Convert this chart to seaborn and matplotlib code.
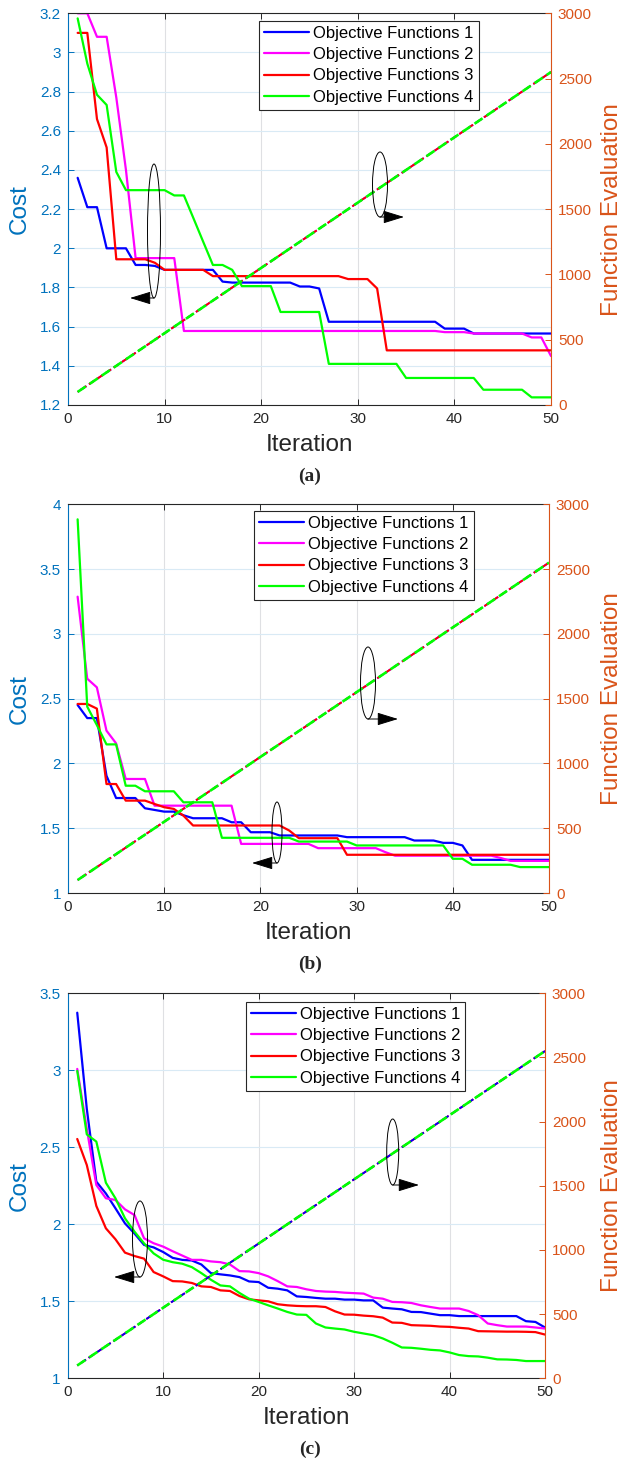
import matplotlib
matplotlib.use("Agg")
import matplotlib.pyplot as plt
import seaborn as sns
from matplotlib.patches import Ellipse, FancyArrowPatch
from matplotlib.ticker import FuncFormatter, MultipleLocator

# ---------------------------------------------------------------- data
iterations = list(range(1, 51))

# cumulative function evaluations (population 50, plus initial population)
function_evals = [100, 150, 200, 250, 300, 350, 400, 450, 500, 550,
                  600, 650, 700, 750, 800, 850, 900, 950, 1000, 1050,
                  1100, 1150, 1200, 1250, 1300, 1350, 1400, 1450, 1500, 1550,
                  1600, 1650, 1700, 1750, 1800, 1850, 1900, 1950, 2000, 2050,
                  2100, 2150, 2200, 2250, 2300, 2350, 2400, 2450, 2500, 2550]

series_labels = ["Objective Functions 1", "Objective Functions 2",
                 "Objective Functions 3", "Objective Functions 4"]
series_colors = ["#0000FF", "#FF00FF", "#FF0000", "#00FF00"]

# (a)
cost_a_f1 = [2.36, 2.21, 2.21, 2.00, 2.00, 2.00, 1.915, 1.915, 1.91, 1.89,
             1.89, 1.89, 1.89, 1.89, 1.89, 1.83, 1.825, 1.825, 1.825, 1.825,
             1.825, 1.825, 1.825, 1.805, 1.805, 1.795, 1.625, 1.625, 1.625, 1.625,
             1.625, 1.625, 1.625, 1.625, 1.625, 1.625, 1.625, 1.625, 1.59, 1.59,
             1.59, 1.565, 1.565, 1.565, 1.565, 1.565, 1.565, 1.565, 1.565, 1.565]
cost_a_f2 = [3.20, 3.20, 3.08, 3.08, 2.77, 2.40, 1.95, 1.95, 1.95, 1.95,
             1.95, 1.578, 1.578, 1.578, 1.578, 1.578, 1.578, 1.578, 1.578, 1.578,
             1.578, 1.578, 1.578, 1.578, 1.578, 1.578, 1.578, 1.578, 1.578, 1.578,
             1.578, 1.578, 1.578, 1.578, 1.578, 1.578, 1.578, 1.578, 1.572, 1.572,
             1.572, 1.565, 1.565, 1.565, 1.565, 1.565, 1.565, 1.545, 1.545, 1.45]
cost_a_f3 = [3.10, 3.10, 2.66, 2.515, 1.944, 1.944, 1.944, 1.944, 1.926, 1.89,
             1.89, 1.89, 1.89, 1.89, 1.858, 1.858, 1.858, 1.858, 1.858, 1.858,
             1.858, 1.858, 1.858, 1.858, 1.858, 1.858, 1.858, 1.858, 1.843, 1.843,
             1.843, 1.795, 1.479, 1.479, 1.479, 1.479, 1.479, 1.479, 1.479, 1.479,
             1.479, 1.479, 1.479, 1.479, 1.479, 1.479, 1.479, 1.479, 1.479, 1.479]
cost_a_f4 = [3.174, 2.943, 2.784, 2.732, 2.39, 2.297, 2.297, 2.297, 2.297, 2.297,
             2.27, 2.27, 2.152, 2.033, 1.915, 1.915, 1.89, 1.807, 1.807, 1.807,
             1.807, 1.675, 1.675, 1.675, 1.675, 1.675, 1.41, 1.41, 1.41, 1.41,
             1.41, 1.41, 1.41, 1.41, 1.338, 1.338, 1.338, 1.338, 1.338, 1.338,
             1.338, 1.338, 1.278, 1.278, 1.278, 1.278, 1.278, 1.239, 1.239, 1.239]

# (b)
cost_b_f1 = [2.451, 2.35, 2.35, 1.905, 1.733, 1.733, 1.733, 1.654, 1.641, 1.628,
             1.628, 1.60, 1.577, 1.577, 1.577, 1.577, 1.546, 1.546, 1.469, 1.469,
             1.469, 1.444, 1.444, 1.444, 1.444, 1.444, 1.444, 1.444, 1.431, 1.431,
             1.431, 1.431, 1.431, 1.431, 1.431, 1.405, 1.405, 1.405, 1.387, 1.387,
             1.367, 1.256, 1.256, 1.256, 1.256, 1.256, 1.256, 1.256, 1.256, 1.256]
cost_b_f2 = [3.287, 2.654, 2.587, 2.253, 2.155, 1.88, 1.88, 1.88, 1.674, 1.674,
             1.674, 1.674, 1.674, 1.674, 1.674, 1.674, 1.674, 1.379, 1.379, 1.379,
             1.379, 1.379, 1.379, 1.379, 1.379, 1.346, 1.346, 1.346, 1.346, 1.346,
             1.346, 1.346, 1.315, 1.288, 1.288, 1.288, 1.288, 1.288, 1.288, 1.288,
             1.288, 1.288, 1.288, 1.288, 1.27, 1.248, 1.248, 1.248, 1.248, 1.248]
cost_b_f3 = [2.459, 2.459, 2.423, 1.841, 1.841, 1.713, 1.713, 1.713, 1.687, 1.662,
             1.649, 1.597, 1.521, 1.521, 1.521, 1.521, 1.521, 1.521, 1.521, 1.521,
             1.521, 1.521, 1.482, 1.423, 1.423, 1.423, 1.423, 1.423, 1.295, 1.295,
             1.295, 1.295, 1.295, 1.295, 1.295, 1.295, 1.295, 1.295, 1.295, 1.295,
             1.295, 1.295, 1.295, 1.295, 1.295, 1.295, 1.295, 1.295, 1.295, 1.295]
cost_b_f4 = [3.884, 2.438, 2.296, 2.147, 2.147, 1.828, 1.828, 1.785, 1.785, 1.785,
             1.785, 1.70, 1.70, 1.70, 1.70, 1.426, 1.426, 1.426, 1.426, 1.426,
             1.426, 1.426, 1.426, 1.397, 1.397, 1.397, 1.397, 1.397, 1.397, 1.367,
             1.367, 1.367, 1.367, 1.367, 1.367, 1.367, 1.367, 1.367, 1.367, 1.264,
             1.264, 1.218, 1.218, 1.218, 1.218, 1.218, 1.20, 1.20, 1.20, 1.20]

# (c)
cost_c_f1 = [3.374, 2.75, 2.277, 2.20, 2.104, 2.006, 1.94, 1.866, 1.85, 1.82,
             1.782, 1.769, 1.765, 1.739, 1.683, 1.675, 1.668, 1.657, 1.629, 1.625,
             1.588, 1.582, 1.571, 1.532, 1.528, 1.522, 1.517, 1.517, 1.511, 1.511,
             1.506, 1.506, 1.459, 1.453, 1.448, 1.431, 1.43, 1.42, 1.41, 1.41,
             1.404, 1.404, 1.404, 1.404, 1.404, 1.404, 1.404, 1.371, 1.366, 1.33]
cost_c_f2 = [3.009, 2.62, 2.255, 2.169, 2.158, 2.097, 2.06, 1.909, 1.877, 1.855,
             1.825, 1.797, 1.769, 1.769, 1.759, 1.754, 1.739, 1.696, 1.694, 1.683,
             1.662, 1.631, 1.597, 1.593, 1.578, 1.567, 1.563, 1.561, 1.556, 1.553,
             1.55, 1.524, 1.517, 1.496, 1.494, 1.489, 1.474, 1.463, 1.453, 1.453,
             1.453, 1.437, 1.41, 1.356, 1.345, 1.336, 1.336, 1.336, 1.33, 1.323]
cost_c_f3 = [2.554, 2.385, 2.119, 1.974, 1.903, 1.816, 1.794, 1.777, 1.69, 1.662,
             1.631, 1.629, 1.619, 1.597, 1.593, 1.571, 1.567, 1.534, 1.513, 1.506,
             1.50, 1.481, 1.474, 1.47, 1.468, 1.468, 1.463, 1.435, 1.414, 1.413,
             1.407, 1.403, 1.394, 1.362, 1.36, 1.345, 1.343, 1.341, 1.336, 1.334,
             1.328, 1.323, 1.306, 1.305, 1.304, 1.303, 1.303, 1.302, 1.30, 1.284]
cost_c_f4 = [2.996, 2.584, 2.537, 2.27, 2.169, 2.039, 1.952, 1.876, 1.811, 1.77,
             1.754, 1.744, 1.722, 1.683, 1.64, 1.603, 1.597, 1.554, 1.517, 1.496,
             1.474, 1.453, 1.431, 1.414, 1.412, 1.356, 1.33, 1.323, 1.317, 1.302,
             1.291, 1.28, 1.259, 1.231, 1.20, 1.198, 1.192, 1.185, 1.181, 1.168,
             1.151, 1.144, 1.142, 1.134, 1.123, 1.122, 1.119, 1.112, 1.112, 1.112]

# ---------------------------------------------------------------- style
sns.set_theme(style="white")
plt.rcParams["font.family"] = ["Liberation Sans", "DejaVu Sans"]
plt.rcParams["axes.linewidth"] = 0.8

W, H = 624, 1465
LEFT_C = (0.0, 0.447, 0.741)
RIGHT_C = (0.85, 0.325, 0.098)
DARK = (0.15, 0.15, 0.15)
YGRID = (0.85, 0.917, 0.961)
XGRID = (0.875, 0.88, 0.89)


def fx(px):
    return px / W


def fy(py):
    return 1.0 - py / H


panels = [
    dict(box=(68, 13.3, 551, 405), ylim=(1.2, 3.2), ystep=0.2,
         costs=[cost_a_f1, cost_a_f2, cost_a_f3, cost_a_f4],
         fe_order=[0, 1, 2, 3], legend_at=(259, 20.7), caption="(a)",
         ell=[(154, 231, 13, 134, 130), (380, 184.5, 15, 65, 404)]),
    dict(box=(68, 504.3, 549, 893), ylim=(1, 4), ystep=0.5,
         costs=[cost_b_f1, cost_b_f2, cost_b_f3, cost_b_f4],
         fe_order=[0, 1, 2, 3], legend_at=(254, 510.7), caption="(b)",
         ell=[(277, 832.5, 10, 61, 252), (368, 683, 15, 72, 398)]),
    dict(box=(67.7, 993.3, 545, 1378.3), ylim=(1, 3.5), ystep=0.5,
         costs=[cost_c_f1, cost_c_f2, cost_c_f3, cost_c_f4],
         fe_order=[1, 2, 0, 3], legend_at=(245.7, 1001.7), caption="(c)",
         ell=[(140, 1239, 15, 76, 114), (392.7, 1152, 12, 66, 419)]),
]

fig = plt.figure(figsize=(W / 100, H / 100), dpi=100)
fmt = FuncFormatter(lambda v, p: f"{v:g}")

for cfg in panels:
    x0, y0, x1, y1 = cfg["box"]
    ax = fig.add_axes([fx(x0), fy(y1), (x1 - x0) / W, (y1 - y0) / H])
    ax2 = ax.twinx()

    # cost curves (left axis)
    for vals, col, lab in zip(cfg["costs"], series_colors, series_labels):
        sns.lineplot(x=iterations, y=vals, ax=ax, color=col, linewidth=1.6,
                     label=lab, legend=False)
    handles = list(ax.lines)

    # function evaluations (right axis), identical for all objectives
    for k in cfg["fe_order"]:
        top = k == 3
        sns.lineplot(x=iterations, y=function_evals, ax=ax2,
                     color=series_colors[k],
                     linewidth=1.9 if top else 1.3,
                     linestyle=(0, (3.7, 1.8)) if top else (3.4, (3.7, 1.8)),
                     legend=False)

    ax.set_xlim(0, 50)
    ax.set_ylim(*cfg["ylim"])
    ax2.set_ylim(0, 3000)
    ax.xaxis.set_major_locator(MultipleLocator(10))
    ax.yaxis.set_major_locator(MultipleLocator(cfg["ystep"]))
    ax.yaxis.set_major_formatter(fmt)
    ax2.yaxis.set_major_locator(MultipleLocator(500))

    ax.set_axisbelow(True)
    ax.grid(axis="x", color=XGRID, linewidth=0.8)
    ax.grid(axis="y", color=YGRID, linewidth=0.8)

    ax.tick_params(axis="x", direction="in", top=True, bottom=True,
                   length=4.5, width=0.7, color=DARK, labelcolor=DARK,
                   labelsize=11, pad=5)
    ax.tick_params(axis="y", direction="in", left=True, length=4.5, width=0.7,
                   color=LEFT_C, labelcolor=LEFT_C, labelsize=11, pad=5)
    ax2.tick_params(axis="y", direction="in", right=True, length=4.5,
                    width=0.7, color=RIGHT_C, labelcolor=RIGHT_C,
                    labelsize=11, pad=5)

    for s in ("top", "bottom"):
        ax.spines[s].set_color(DARK)
    ax.spines["left"].set_color(LEFT_C)
    ax.spines["right"].set_visible(False)
    for s in ("top", "bottom", "left"):
        ax2.spines[s].set_visible(False)
    ax2.spines["right"].set_color(RIGHT_C)
    ax2.spines["right"].set_linewidth(0.8)

    # axis titles
    w_px, h_px = x1 - x0, y1 - y0
    ax.set_xlabel("Iteration", fontsize=17.5, color=DARK, va="center")
    ax.xaxis.set_label_coords(0.5, -40 / h_px)
    ax.set_ylabel("Cost", fontsize=17.5, color=LEFT_C, va="center",
                  rotation=90)
    ax.yaxis.set_label_coords((20 - x0) / w_px, 0.5)
    ax2.set_ylabel("Function Evaluation", fontsize=17.5, color=RIGHT_C,
                   va="center", rotation=90)
    ax2.yaxis.set_label_coords((612 - x0) / w_px, 0.5)

    # legend
    leg = ax2.legend(handles, series_labels, loc="upper left",
                     bbox_to_anchor=(fx(cfg["legend_at"][0]),
                                     fy(cfg["legend_at"][1])),
                     bbox_transform=fig.transFigure, borderaxespad=0,
                     fontsize=12, frameon=True, fancybox=False,
                     framealpha=1, edgecolor=DARK, handlelength=2.7,
                     handletextpad=0.25, labelspacing=0.38, borderpad=0.3)
    leg.get_frame().set_linewidth(0.8)
    for t in leg.get_texts():
        t.set_color("black")

    # ellipse markers with arrows pointing to the matching axis
    for cx, cy, ew, eh, tip in cfg["ell"]:
        fig.add_artist(Ellipse((fx(cx), fy(cy)), ew / W, eh / H,
                               transform=fig.transFigure, fill=False,
                               edgecolor="black", linewidth=0.7))
        yb = cy + eh / 2
        fig.add_artist(FancyArrowPatch(
            (fx(cx), fy(yb)), (fx(tip), fy(yb)),
            transform=fig.transFigure,
            arrowstyle="-|>,head_length=1.3,head_width=0.4",
            mutation_scale=10, color="black", linewidth=0.7,
            shrinkA=0, shrinkB=0))

    fig.text(fx(310), fy(y1 + 71), cfg["caption"], ha="center", va="center",
             fontsize=14, fontweight="bold",
             family=["Liberation Serif", "DejaVu Serif"])

fig.savefig("out.png", dpi=100)
